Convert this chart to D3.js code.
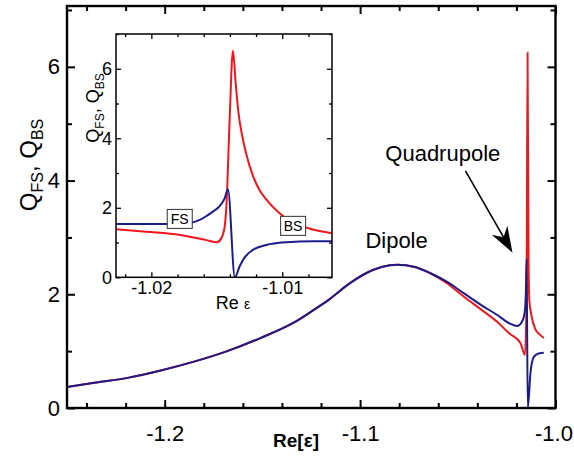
<!DOCTYPE html>
<html>
<head>
<meta charset="utf-8">
<script src="https://cdn.jsdelivr.net/npm/d3@7"></script>
<style>
  body { margin: 0; background: #fff; }
  svg { display: block; font-family: "Liberation Sans", Arial, sans-serif; }
</style>
</head>
<body>
<svg id="chart" width="574" height="459"></svg>
<script>
// ---- main panel: forward (FS) and backward (BS) scattering efficiency vs Re[ε]
const mainFsRe = [-1.250, -1.236, -1.219, -1.202, -1.185, -1.168, -1.151, -1.134, -1.1235, -1.117,
  -1.105, -1.097, -1.089, -1.081, -1.072, -1.064, -1.055, -1.047, -1.038, -1.030,
  -1.0236, -1.0196, -1.0171, -1.0157, -1.0151, -1.0148, -1.0142, -1.0128, -1.0111, -1.0086, -1.0060];
const mainFsQ = [0.37, 0.445, 0.53, 0.66, 0.815, 1.00, 1.23, 1.50, 1.73, 1.88,
  2.20, 2.37, 2.48, 2.52, 2.48, 2.37, 2.21, 2.02, 1.81, 1.64,
  1.49, 1.44, 1.52, 1.70, 2.10, 2.62, 0.00, 0.62, 0.90, 0.96, 0.97];

const mainBsRe = [-1.250, -1.236, -1.219, -1.202, -1.185, -1.168, -1.151, -1.134, -1.1235, -1.117,
  -1.105, -1.097, -1.089, -1.081, -1.072, -1.064, -1.055, -1.047, -1.038, -1.030,
  -1.0236, -1.0179, -1.0156, -1.0148, -1.0143, -1.0138, -1.0134, -1.0122, -1.0105, -1.0080, -1.0060];
const mainBsQ = [0.37, 0.445, 0.53, 0.66, 0.815, 1.00, 1.23, 1.50, 1.73, 1.88,
  2.20, 2.37, 2.48, 2.52, 2.48, 2.37, 2.18, 1.96, 1.73, 1.52,
  1.31, 1.14, 0.93, 2.00, 6.25, 2.60, 1.90, 1.61, 1.40, 1.29, 1.23];

const mainXMajor = [-1.2, -1.1, -1.0];
const mainXMinor = [-1.24, -1.22, -1.18, -1.16, -1.14, -1.12, -1.08, -1.06, -1.04, -1.02];
const mainYMajor = [0, 2, 4, 6];
const mainYMinor = [1, 3, 5, 7];

// ---- inset: close-up of the quadrupole resonance
const insetFsRe = [-1.0227, -1.0200, -1.0180, -1.01695, -1.0163, -1.0158, -1.0153, -1.0148, -1.0144, -1.01415,
  -1.01362, -1.01326, -1.0130, -1.01224, -1.01122, -1.00969, -1.00766, -1.0062];
const insetFsQ = [1.53, 1.53, 1.54, 1.57, 1.65, 1.76, 1.89, 2.04, 2.27, 2.53,
  0.00, 0.31, 0.50, 0.79, 0.93, 1.01, 1.04, 1.04];

const insetBsRe = [-1.0227, -1.0204, -1.0178, -1.0158, -1.0150, -1.01466, -1.0144, -1.01427, -1.01402,
  -1.01377, -1.01355, -1.01335, -1.01305, -1.01275, -1.01224, -1.01175, -1.01122, -1.01021,
  -1.00868, -1.0075, -1.0062];
const insetBsQ = [1.38, 1.31, 1.22, 1.07, 1.01, 1.12, 1.46, 2.03, 4.53,
  6.52, 5.55, 4.75, 4.05, 3.55, 2.92, 2.52, 2.24, 1.84,
  1.50, 1.36, 1.27];

const insetXMajor = [-1.02, -1.01];
const insetXMinor = [-1.022, -1.018, -1.016, -1.014, -1.012, -1.008];
const insetYMajor = [0, 2, 4, 6];
const insetYMinor = [1, 3, 5, 7];

const seriesNames = ["FS", "BS"];
const colorFS = "#1c1c88";
const colorBS = "#f2161c";

const svg = d3.select("#chart");

function zip(xs, ys) { return xs.map((v, i) => [v, ys[i]]); }

// inward ticks on all four sides of a frame
function frame(g, x, y, o) {
  const [x0, x1] = x.range(), [y0, y1] = y.range();
  const mk = (axisFn, scale, vals, size, fmt, tr, fs) => {
    const a = g.append("g").attr("transform", tr)
      .call(axisFn(scale).tickValues(vals).tickSize(-size).tickPadding(o.pad)
        .tickFormat(fmt || (() => "")));
    a.select(".domain").remove();
    a.selectAll("line").attr("stroke", "#000").attr("stroke-width", o.tickW);
    a.selectAll("text").attr("fill", "#000").style("font-size", fs + "px")
      .style("font-family", '"Liberation Sans", Arial, sans-serif');
    return a;
  };
  mk(d3.axisBottom, x, o.xMinor, o.minor, null, `translate(0,${y0})`);
  const xa = mk(d3.axisBottom, x, o.xMajor, o.major, o.xFmt, `translate(0,${y0})`, o.fs);
  mk(d3.axisTop, x, o.xMinor, o.minor, null, `translate(0,${y1})`);
  mk(d3.axisTop, x, o.xMajor, o.major, null, `translate(0,${y1})`);
  mk(d3.axisLeft, y, o.yMinor, o.minor, null, `translate(${x0},0)`);
  mk(d3.axisLeft, y, o.yMajor, o.major, o.yFmt, `translate(${x0},0)`, o.fs);
  mk(d3.axisRight, y, o.yMinor, o.minor, null, `translate(${x1},0)`);
  mk(d3.axisRight, y, o.yMajor, o.major, null, `translate(${x1},0)`);
  g.append("rect").attr("x", x0).attr("y", y1).attr("width", x1 - x0).attr("height", y0 - y1)
    .attr("fill", "none").attr("stroke", "#000").attr("stroke-width", o.frameW);
  return xa;
}

// ---------- main panel
const x = d3.scaleLinear().domain([-1.25, -1.0]).range([67, 555.5]);
const y = d3.scaleLinear().domain([0, 7.07]).range([408, 6]);

const gMain = svg.append("g");
svg.append("clipPath").attr("id", "clipMain").append("rect")
  .attr("x", 67).attr("y", 6).attr("width", 488.5).attr("height", 402);

const lineMain = d3.line().x(d => x(d[0])).y(d => y(d[1])).curve(d3.curveMonotoneX);
const gCurves = gMain.append("g").attr("clip-path", "url(#clipMain)");
gCurves.append("path").datum(zip(mainBsRe, mainBsQ)).attr("d", lineMain)
  .attr("fill", "none").attr("stroke", colorBS).attr("stroke-width", 2);
gCurves.append("path").datum(zip(mainFsRe, mainFsQ)).attr("d", lineMain)
  .attr("fill", "none").attr("stroke", colorFS).attr("stroke-width", 2);

const mainXAxis = frame(gMain, x, y, {
  xMajor: mainXMajor, xMinor: mainXMinor, yMajor: mainYMajor, yMinor: mainYMinor,
  major: 8, minor: 5, pad: 7, fs: 22, tickW: 2, frameW: 2.4,
  xFmt: d => d.toFixed(1), yFmt: d => d3.format("d")(d)
});
mainXAxis.selectAll("text").attr("y", 12).attr("dy", "0.95em")
  .attr("dx", d => d === -1.0 ? -2 : 0);

// axis titles
svg.append("text").attr("x", 296).attr("y", 447).attr("text-anchor", "middle")
  .style("font-size", "19px").style("font-weight", "bold").text("Re[ε]");

const yt = svg.append("text").attr("transform", "translate(37,165) rotate(-90)")
  .attr("text-anchor", "middle").style("font-size", "24px");
yt.append("tspan").text("Q");
yt.append("tspan").attr("dy", 6).style("font-size", "16px").text("FS");
yt.append("tspan").attr("dy", -6).text(", Q");
yt.append("tspan").attr("dy", 6).style("font-size", "16px").text("BS");

// annotations
svg.append("text").attr("x", x(-1.0973)).attr("y", y(2.81)).style("font-size", "22px").text("Dipole");
svg.append("text").attr("x", x(-1.0871)).attr("y", y(4.34)).style("font-size", "22px").text("Quadrupole");

const aFrom = [x(-1.0461), y(4.17)], aTo = [x(-1.0220), y(2.73)];
{
  const dx = aTo[0] - aFrom[0], dy = aTo[1] - aFrom[1], L = Math.hypot(dx, dy);
  const ux = dx / L, uy = dy / L, px = -uy, py = ux;
  const head = 26, half = 9, notch = 18;
  const bx = aTo[0] - ux * head, by = aTo[1] - uy * head;
  const nx = aTo[0] - ux * notch, ny = aTo[1] - uy * notch;
  svg.append("line").attr("x1", aFrom[0]).attr("y1", aFrom[1]).attr("x2", nx).attr("y2", ny)
    .attr("stroke", "#000").attr("stroke-width", 1.6);
  svg.append("path").attr("d",
    `M${aTo[0]},${aTo[1]} L${bx + px * half},${by + py * half} L${nx},${ny} L${bx - px * half},${by - py * half} Z`)
    .attr("fill", "#000");
}

// ---------- inset
const xi = d3.scaleLinear().domain([-1.0227, -1.0062]).range([116, 332]);
const yi = d3.scaleLinear().domain([0, 7]).range([277.3, 34]);

const gIn = svg.append("g");
gIn.append("rect").attr("x", 116).attr("y", 34).attr("width", 216).attr("height", 243.3).attr("fill", "#fff");
svg.append("clipPath").attr("id", "clipInset").append("rect")
  .attr("x", 116).attr("y", 34).attr("width", 216).attr("height", 243.3);

const lineIn = d3.line().x(d => xi(d[0])).y(d => yi(d[1])).curve(d3.curveMonotoneX);
const gInC = gIn.append("g").attr("clip-path", "url(#clipInset)");
gInC.append("path").datum(zip(insetBsRe, insetBsQ)).attr("d", lineIn)
  .attr("fill", "none").attr("stroke", colorBS).attr("stroke-width", 2);
gInC.append("path").datum(zip(insetFsRe, insetFsQ)).attr("d", lineIn)
  .attr("fill", "none").attr("stroke", colorFS).attr("stroke-width", 2);

frame(gIn, xi, yi, {
  xMajor: insetXMajor, xMinor: insetXMinor, yMajor: insetYMajor, yMinor: insetYMinor,
  major: 5, minor: 3, pad: 4, fs: 18, tickW: 1.3, frameW: 1.5,
  xFmt: d => d.toFixed(2), yFmt: d => d3.format("d")(d)
});

// series tags
const tags = [
  { name: seriesNames[0], re: -1.01783, q: 1.68 },
  { name: seriesNames[1], re: -1.00917, q: 1.48 }
];
tags.forEach(t => {
  const cx = xi(t.re), cy = yi(t.q);
  gIn.append("rect").attr("x", cx - 12.5).attr("y", cy - 9.5).attr("width", 25).attr("height", 19)
    .attr("fill", "#fff").attr("stroke", "#333").attr("stroke-width", 1);
  gIn.append("text").attr("x", cx).attr("y", cy + 5).attr("text-anchor", "middle")
    .style("font-size", "14px").text(t.name);
});

// inset axis titles
const xit = svg.append("text").attr("x", 233).attr("y", 309).attr("text-anchor", "middle")
  .style("font-size", "18px");
xit.append("tspan").text("Re ");
xit.append("tspan").style("font-size", "14px").text("ε");

const yit = svg.append("text").attr("transform", "translate(99,108) rotate(-90)")
  .attr("text-anchor", "middle").style("font-size", "18px");
yit.append("tspan").text("Q");
yit.append("tspan").attr("dy", 5).style("font-size", "12px").text("FS");
yit.append("tspan").attr("dy", -5).text(", Q");
yit.append("tspan").attr("dy", 5).style("font-size", "12px").text("BS");
</script>
</body>
</html>
